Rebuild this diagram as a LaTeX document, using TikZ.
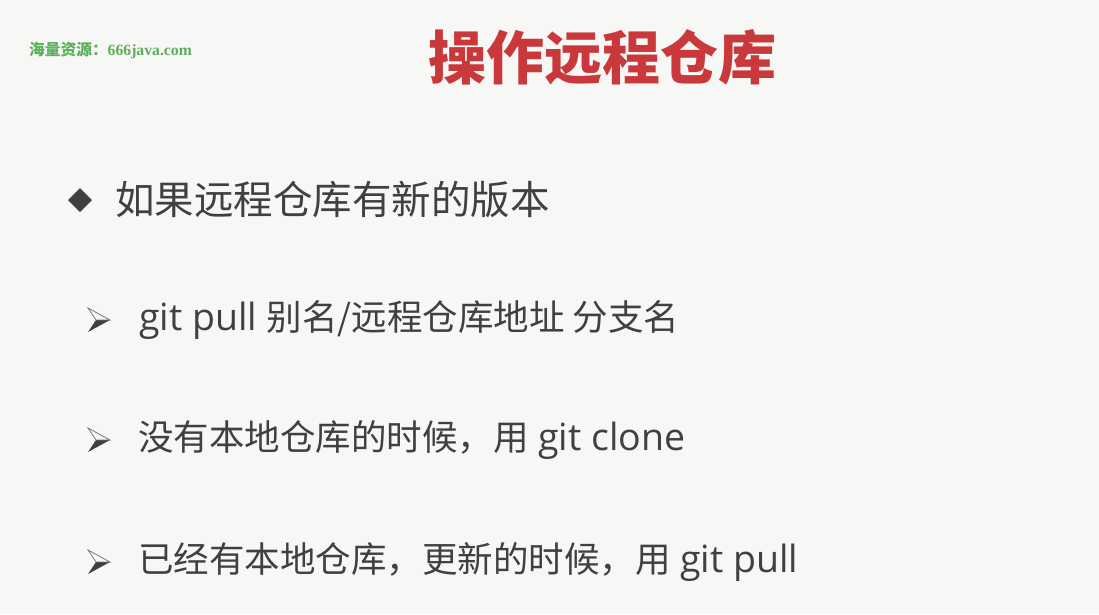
\documentclass[tikz,border=0pt]{standalone}
\usepackage{fontspec}
\setmainfont{Open Sans}
\newfontfamily\cjk{Noto Sans CJK SC}
\newfontfamily\wmlat{Liberation Serif}
\definecolor{bg}{HTML}{F7F7F5}
\definecolor{txt}{HTML}{404040}
\definecolor{titred}{HTML}{C9393C}
\definecolor{wmgreen}{HTML}{5DAE5D}
\newcommand{\arrowbullet}[2]{%
  \fill[txt] (#1+8,#2) -- (#1+22,#2) -- (#1,#2+12) -- cycle;
  \draw[txt!70,line width=0.8pt,line join=miter] (#1+8,#2) -- (#1+22,#2) -- (#1,#2-12) -- cycle;
}
\newcommand{\zh}[1]{{\cjk\fontsize{35.5}{42}\selectfont #1}}
\begin{document}
\begin{tikzpicture}[x=1pt,y=-1pt,
  body/.style={anchor=west,inner sep=0pt,text=txt,font=\fontsize{37.5}{44}\selectfont},
  mainline/.style={anchor=west,inner sep=0pt,text=txt,font=\cjk\fontsize{39.5}{46}\selectfont}]
\fill[bg] (0,0) rectangle (1099,614);
\useasboundingbox (0,0) rectangle (1099,614);
% watermark
\node[anchor=west,inner sep=0pt,text=wmgreen] (wm) at (29,50)
  {{\cjk\bfseries\fontsize{15.7}{18}\selectfont 海量资源：}{\wmlat\bfseries\fontsize{15.7}{18}\selectfont 666java.com}};
% title
\node[inner sep=0pt,text=titred,font=\cjk\bfseries\fontsize{58}{64}\selectfont] (title) at (602,57) {操作远程仓库};
% main bullet
\fill[txt] (80,188) -- (92,200) -- (80,212) -- (68,200) -- cycle;
\node[mainline] (main) at (115,200) {如果远程仓库有新的版本};
% sub bullets
\arrowbullet{88}{320}
\node[body] (l1) at (139,320) {git pull \zh{别名/远程仓库地址 分支名}};
\arrowbullet{88}{440}
\node[body] (l2) at (138,440) {\zh{没有本地仓库的时候，用} git clone};
\arrowbullet{88}{562}
\node[body] (l3) at (138,562) {\zh{已经有本地仓库，更新的时候，用} git pull};
\end{tikzpicture}
\end{document}
